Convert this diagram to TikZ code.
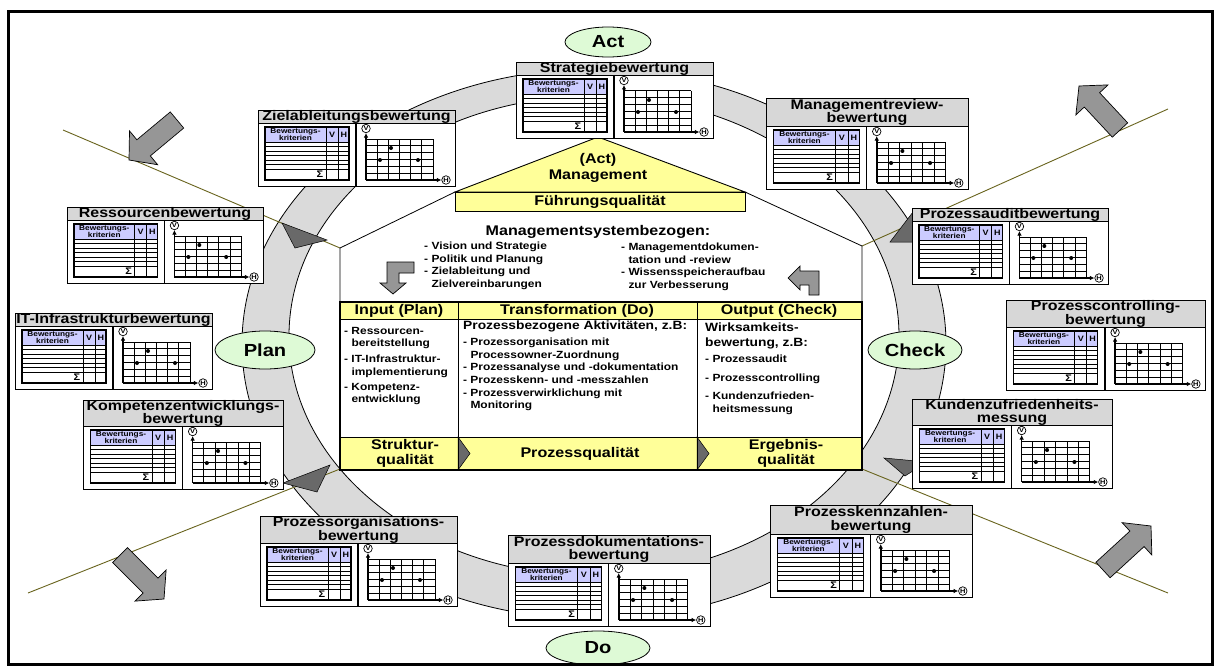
\documentclass[tikz,border=0pt]{standalone}
\usepackage{fontspec}
\setmainfont{Liberation Sans}[FakeStretch=1.15]
\usetikzlibrary{calc,arrows.meta,shapes.geometric}
\definecolor{ringgray}{RGB}{218,218,218}
\definecolor{titlegray}{RGB}{215,215,215}
\definecolor{lav}{RGB}{204,204,255}
\definecolor{yel}{RGB}{255,255,153}
\definecolor{pgreen}{RGB}{222,250,214}
\definecolor{arrgray}{RGB}{150,150,150}
\definecolor{trigray}{RGB}{105,105,105}
\definecolor{oliveline}{RGB}{105,100,30}
\tikzset{
  cardbox/.style={draw, fill=white, line width=1.1pt, anchor=north west, inner sep=0pt},
  titlebox/.style={draw, fill=titlegray, line width=0.9pt, anchor=north west, inner sep=0pt},
  ttl/.style={font=\bfseries\fontsize{13.9}{13.2}\selectfont, align=center, inner sep=0pt},
  hdr/.style={font=\bfseries\fontsize{7.2}{6.6}\selectfont, align=center, inner sep=0pt},
  vh/.style={font=\bfseries\fontsize{7.8}{7.8}\selectfont, inner sep=0pt},
  sig/.style={font=\bfseries\fontsize{9.5}{9.5}\selectfont, inner sep=0pt},
  circ/.style={circle, draw, fill=white, line width=0.7pt, inner sep=0pt, minimum size=8.5pt, font=\bfseries\fontsize{6.5}{6.5}\selectfont},
  tline/.style={line width=0.7pt},
  tframe/.style={line width=1.1pt},
  gline/.style={line width=1pt},
  axisl/.style={line width=1.6pt},
  sepline/.style={line width=1.4pt},
  barrow/.style={fill=arrgray, draw=black, line width=0.7pt, line join=miter},
  tri/.style={fill=trigray, draw=black, line width=0.5pt},
  diag/.style={draw=oliveline, line width=0.9pt},
  pdca/.style={ellipse, draw, fill=pgreen, line width=0.8pt, inner sep=0pt, font=\bfseries\fontsize{17.5}{17}\selectfont},
  yelbox/.style={draw, fill=yel, line width=1.2pt},
  big/.style={font=\bfseries\fontsize{14}{16}\selectfont, align=center, inner sep=0pt},
  lst/.style={font=\bfseries\fontsize{10.4}{12.6}\selectfont, align=left, anchor=north west, inner sep=0pt},
  mid/.style={font=\bfseries\fontsize{12}{14.5}\selectfont, align=left, anchor=north west, inner sep=0pt},
}
\newcommand\card[6]{%
\begin{scope}[shift={(#2,#3)}]
 \node[cardbox, minimum width=#4pt, minimum height=#5pt+63pt] (#1) at (0,0) {};
 \node[titlebox, minimum width=#4pt, minimum height=#5pt] (#1-tb) at (0,0) {};
 \node[ttl] (#1-t) at (#4/2,#5/2+0.5) {#6};
 \begin{scope}[shift={(0,#5)}, xscale=#4/197]
  \fill[lav] (7,4) rectangle (91,19);
  \foreach \yy in {19,23.5,28,32.5,37,41.5,46} \draw[tline] (7,\yy) -- (91,\yy);
  \draw[tline] (68,4) -- (68,57) (80,4) -- (80,57);
  \draw[tframe] (7,4) rectangle (91,57);
  \node[hdr] (#1-k) at (37.5,11.6) {Bewertungs-\\kriterien};
  \node[vh] (#1-cv) at (74,12) {V};
  \node[vh] (#1-ch) at (85.8,12) {H};
  \node[sig] (#1-s) at (62,51.5) {Σ};
  \draw[sepline] (98,0) -- (98,63);
  \foreach \i in {0,...,6} \draw[gline] (108+\i*11.17,16) -- (108+\i*11.17,57);
  \foreach \i in {0,...,6} \draw[gline] (108,16+\i*6.83) -- (175,16+\i*6.83);
  \node[circ] (#1-v) at (108,5.5) {V};
  \node[circ] (#1-h) at (188,57) {H};
  \draw[axisl,-{Latex[length=4.5pt,width=4.5pt]}] (108,57) -- (108,10);
  \draw[axisl,-{Latex[length=4.5pt,width=4.5pt]}] (108,57) -- (#1-h);
  \fill (133,25) circle[radius=2pt] (122,37) circle[radius=2pt] (160,37) circle[radius=2pt];
 \end{scope}
\end{scope}}
\newcommand\blockarr[2]{%
 \coordinate (#1-b) at ($(#2)!19pt!(#1)$);
 \filldraw[barrow] ($(#1)!10.5pt!90:(#2)$) -- ($(#1-b)!10.5pt!90:(#2)$) -- ($(#1-b)!22pt!90:(#2)$) -- (#2)
   -- ($(#1-b)!22pt!-90:(#2)$) -- ($(#1-b)!10.5pt!-90:(#2)$) -- ($(#1)!10.5pt!-90:(#2)$) -- cycle;}
\begin{document}
\begin{tikzpicture}[x=1pt, y=-1pt, font=\bfseries]
\useasboundingbox (0,0) rectangle (1216,669);
\fill[white] (0,0) rectangle (1216,669);
% ring
\filldraw[fill=ringgray, draw=black, line width=0.8pt, even odd rule]
  (594,344) ellipse [x radius=352pt, y radius=275pt]
  (594,336) ellipse [x radius=305pt, y radius=240pt];
% diagonal lines
\coordinate (ulA) at (63,130);  \coordinate (ulB) at (340,248);
\coordinate (urA) at (1168,109); \coordinate (urB) at (862,246);
\coordinate (llA) at (28,593);  \coordinate (llB) at (340,469);
\coordinate (lrA) at (1168,593); \coordinate (lrB) at (862,469);
\draw[diag] (ulA) -- (ulB);
\draw[diag] (urA) -- (urB);
\draw[diag] (llA) -- (llB);
\draw[diag] (lrA) -- (lrB);
% ring triangles
\filldraw[tri] (282,223) -- (327,240) -- (295,248) -- cycle;
\filldraw[tri] (890,242) -- (913,212) -- (918,242) -- cycle;
\filldraw[tri] (884,458) -- (927,462) -- (905,476) -- cycle;
\filldraw[tri] (283,483) -- (330,465) -- (317,492) -- cycle;
% block arrows
\coordinate (aulT) at (177,120); \coordinate (aulP) at (129,160);
\coordinate (allT) at (120,555); \coordinate (allP) at (164,599);
\coordinate (aurT) at (1120,130); \coordinate (aurP) at (1079,86);
\coordinate (alrT) at (1103,570); \coordinate (alrP) at (1151,526);
\blockarr{aulT}{aulP}
\blockarr{allT}{allP}
\blockarr{aurT}{aurP}
\blockarr{alrT}{alrP}
% house
\draw[line width=0.8pt] (340,304) -- (340,248) -- (455,192);
\draw[line width=0.8pt] (862,304) -- (862,246) -- (745,192);
\filldraw[fill=yel, draw=black, line width=0.9pt] (455,192) -- (598,137) -- (745,192) -- cycle;
\node[big] (actmg) at (598,168) {(Act)\\Management};
\node[yelbox, minimum width=290pt, minimum height=19pt, anchor=north west, inner sep=0pt] (fq) at (455,192) {};
\node[big] (fqt) at (600,202) {Führungsqualität};
\node[big] (msb) at (598,232) {Managementsystembezogen:};
\node[lst] (ml) at (424,242) {- Vision und Strategie\\- Politik und Planung\\- Zielableitung und\\\hphantom{- }Zielvereinbarungen};
\node[lst] (mr) at (621,243) {- Managementdokumen-\\\hphantom{- }tation und -review\\- Wissensspeicheraufbau\\\hphantom{- }zur Verbesserung};
\filldraw[barrow] (414,262) -- (387,262) -- (387,283) -- (380,283) -- (393,294) -- (406,283) -- (399,283) -- (399,273) -- (414,273) -- cycle;
\filldraw[barrow] (788,278) -- (800,266) -- (800,271) -- (819,271) -- (819,295) -- (809,295) -- (809,285) -- (800,285) -- (800,290) -- cycle;
% central table
\fill[white] (340,302) rectangle (862,470);
\filldraw[fill=yel, draw=black, line width=1pt] (340,302) rectangle (862,319);
\filldraw[fill=yel, draw=black, line width=1pt] (340,437) rectangle (862,470);
\filldraw[fill=trigray, draw=black, line width=0.5pt] (458,437) -- (470,453.5) -- (458,470) -- cycle;
\filldraw[fill=trigray, draw=black, line width=0.5pt] (697,437) -- (709,453.5) -- (697,470) -- cycle;
\draw[line width=1pt] (458,302) -- (458,470) (697,302) -- (697,470);
\draw[line width=1.4pt] (340,302) rectangle (862,470);
\node[big] (hin) at (399,311) {Input (Plan)};
\node[big] (htr) at (577,311) {Transformation (Do)};
\node[big] (hout) at (779,311) {Output (Check)};
\node[lst] (i1) at (344,327) {- Ressourcen-\\\hphantom{- }bereitstellung};
\node[lst] (i2) at (344,355) {- IT-Infrastruktur-\\\hphantom{- }implementierung};
\node[lst] (i3) at (344,383) {- Kompetenz-\\\hphantom{- }entwicklung};
\node[mid] (t0) at (463,321) {Prozessbezogene Aktivitäten, z.B:};
\node[lst] (t1) at (463,338) {- Prozessorganisation mit\\\hphantom{- }Processowner-Zuordnung\\- Prozessanalyse und -dokumentation\\- Prozesskenn- und -messzahlen\\- Prozessverwirklichung mit\\\hphantom{- }Monitoring};
\node[mid, font=\bfseries\fontsize{12}{15}\selectfont] (o0) at (705,323) {Wirksamkeits-\\bewertung, z.B:};
\node[lst] (o1) at (705,355) {- Prozessaudit};
\node[lst] (o2) at (705,374) {- Prozesscontrolling};
\node[lst] (o3) at (705,392) {- Kundenzufrieden-\\\hphantom{- }heitsmessung};
\node[big, font=\bfseries\fontsize{14}{15}\selectfont] (bs) at (405,453) {Struktur-\\qualität};
\node[big] (bp) at (580,454) {Prozessqualität};
\node[big, font=\bfseries\fontsize{14}{15}\selectfont] (be) at (786,453) {Ergebnis-\\qualität};
% cards
\card{strat}{516}{62}{197}{13}{Strategiebewertung}
\card{ziel}{258}{110}{197}{13}{Zielableitungsbewertung}
\card{mgmt}{766}{98}{202}{28}{Managementreview-\\bewertung}
\card{ress}{67}{207}{196}{13}{Ressourcenbewertung}
\card{audit}{912}{208}{196}{13}{Prozessauditbewertung}
\card{itinf}{15}{313}{197}{13}{IT-Infrastrukturbewertung}
\card{contr}{1006}{300}{199}{27}{Prozesscontrolling-\\bewertung}
\card{komp}{83}{400}{200}{26}{Kompetenzentwicklungs-\\bewertung}
\card{kund}{912}{399}{200}{26}{Kundenzufriedenheits-\\messung}
\card{porg}{260}{516}{197}{27}{Prozessorganisations-\\bewertung}
\card{pkenn}{770}{505}{202}{29}{Prozesskennzahlen-\\bewertung}
\card{pdok}{508}{535}{202}{28}{Prozessdokumentations-\\bewertung}
% PDCA ellipses
\node[pdca, minimum width=86pt, minimum height=30pt] (act) at (608,42) {Act};
\node[pdca, minimum width=100pt, minimum height=38pt] (plan) at (265,350) {Plan};
\node[pdca, minimum width=94pt, minimum height=38pt] (check) at (915,350) {Check};
\node[pdca, minimum width=104pt, minimum height=34pt] (do) at (598,648) {Do};
% frame
\draw[line width=3pt] (8,12) rectangle (1212,664);
\end{tikzpicture}
\end{document}
